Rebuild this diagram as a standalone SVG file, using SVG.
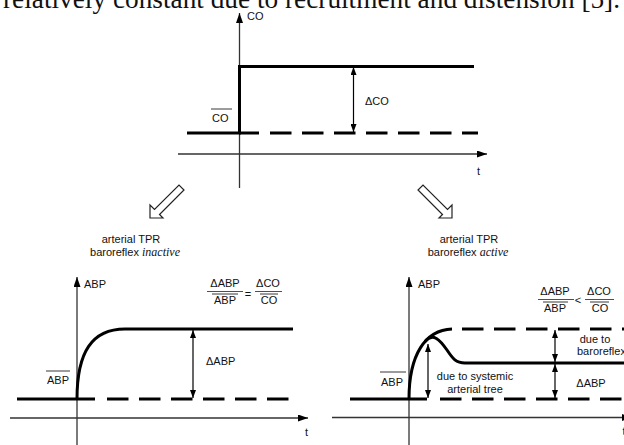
<svg xmlns="http://www.w3.org/2000/svg" width="624" height="445" viewBox="0 0 624 445">
<style>
.t{font-family:"Liberation Sans",Arial,sans-serif;font-size:11px;fill:#111}
.m{text-anchor:middle}
.it{font-family:"Liberation Serif","Times New Roman",serif;font-style:italic;font-size:12px}
.ax{stroke:#333;stroke-width:1.3;fill:none}
.th{stroke:#000;stroke-width:3;fill:none}
.ds{stroke:#000;stroke-width:3;fill:none;stroke-dasharray:21.5 10.5}
.ms{stroke:#000;stroke-width:1.2;fill:none}
.ol{stroke:#222;stroke-width:0.9}
.fb{stroke:#222;stroke-width:0.8}
.ho{fill:#fff;stroke:#222;stroke-width:1.2}
</style>
<defs>
<marker id="ah" viewBox="0 0 10 7" refX="10" refY="3.5" markerWidth="10" markerHeight="7" markerUnits="userSpaceOnUse" orient="auto"><path d="M0,0 L10,3.5 L0,7 z" fill="#000"/></marker>
<marker id="sa" viewBox="0 0 8 6" refX="8" refY="3" markerWidth="8" markerHeight="6" markerUnits="userSpaceOnUse" orient="auto-start-reverse"><path d="M0,0 L8,3 L0,6 z" fill="#000"/></marker>
</defs>
<text x="3" y="7.5" style="font-family:'Liberation Serif','Times New Roman',serif;font-size:27.3px;fill:#111">relatively constant due to recruitment and distension [5].</text>

<g id="top-graph">
<line class="ax" x1="239.5" y1="188" x2="239.5" y2="13" marker-end="url(#ah)"/>
<line class="ax" x1="178" y1="154" x2="487" y2="154" marker-end="url(#ah)"/>
<text class="t" x="247" y="20">CO</text>
<text class="t" x="477" y="175">t</text>
<polyline class="th" points="187,133 239.5,133 239.5,66.5 474,66.5"/>
<line class="th" x1="239" y1="133" x2="259" y2="133"/>
<line class="ds" x1="270" y1="133" x2="478" y2="133"/>
<line class="ms" x1="353.5" y1="67" x2="353.5" y2="132" marker-start="url(#sa)" marker-end="url(#sa)"/>
<text class="t" x="365" y="105">ΔCO</text>
<line class="ol" x1="211" y1="109" x2="232" y2="109"/>
<text class="t" x="212" y="122">CO</text>
</g>

<g id="arrow-left">
<polygon class="ho" points="150,218 150,205 154.5,209.5 179,185 184,190 159.5,214.5 163,218"/>
</g>
<g id="arrow-right">
<polygon class="ho" points="452,218 452,205 447.5,209.5 423,185 418,190 442.5,214.5 439,218"/>
</g>

<g id="label-left">
<text class="t m" x="131" y="243">arterial TPR</text>
<text class="t m" x="135" y="256">baroreflex <tspan class="it">inactive</tspan></text>
</g>
<g id="label-right">
<text class="t m" x="469" y="243">arterial TPR</text>
<text class="t m" x="468" y="256">baroreflex  <tspan class="it">active</tspan></text>
</g>

<g id="left-graph">
<line class="ax" x1="77" y1="445" x2="77" y2="277" marker-end="url(#ah)"/>
<line class="ax" x1="10" y1="418" x2="308" y2="418" marker-end="url(#ah)"/>
<text class="t" x="84" y="288">ABP</text>
<text class="t" x="305" y="436">t</text>
<line class="th" x1="17" y1="399" x2="95" y2="399"/>
<line class="ds" x1="107" y1="399" x2="289" y2="399"/>
<path class="th" d="M77,399 C77,352 92,329 125,329 L293,329"/>
<line class="ms" x1="193" y1="330" x2="193" y2="398" marker-start="url(#sa)" marker-end="url(#sa)"/>
<text class="t" x="206" y="365">ΔABP</text>
<line class="ol" x1="46" y1="371" x2="70" y2="371"/>
<text class="t" x="47" y="384">ABP</text>
<text class="t m" x="225" y="287">ΔABP</text>
<line class="fb" x1="207" y1="291.5" x2="243" y2="291.5"/>
<line class="ol" x1="212" y1="294" x2="238" y2="294"/>
<text class="t m" x="225" y="304">ABP</text>
<text class="t m" x="248" y="298">=</text>
<text class="t m" x="268" y="287">ΔCO</text>
<line class="fb" x1="255" y1="291.5" x2="282" y2="291.5"/>
<line class="ol" x1="260" y1="294" x2="278" y2="294"/>
<text class="t m" x="269" y="304">CO</text>
</g>

<g id="right-graph">
<line class="ax" x1="409" y1="445" x2="409" y2="277" marker-end="url(#ah)"/>
<line class="ax" x1="332" y1="417.5" x2="632" y2="417.5" marker-end="url(#ah)"/>
<text class="t" x="418" y="288">ABP</text>
<text class="t" x="622.5" y="435">t</text>
<line class="th" x1="350" y1="399" x2="427" y2="399"/>
<line class="ds" x1="440" y1="399" x2="626" y2="399"/>
<line class="ds" x1="462" y1="329" x2="626" y2="329"/>
<path class="th" d="M409,399 C409,355 425,330 452,329"/>
<path class="th" d="M425,341.5 C433,332 440,340 447,350 C453,359 456,363 465,363 L626,363"/>
<line class="ms" x1="428" y1="344" x2="428" y2="398" marker-start="url(#sa)" marker-end="url(#sa)"/>
<line class="ms" x1="555" y1="330" x2="555" y2="362" marker-start="url(#sa)" marker-end="url(#sa)"/>
<line class="ms" x1="555" y1="364" x2="555" y2="398" marker-start="url(#sa)" marker-end="url(#sa)"/>
<text class="t m" x="475" y="380">due to systemic</text>
<text class="t m" x="475" y="393">arterial tree</text>
<text class="t m" x="595" y="343">due to</text>
<text class="t" x="577" y="355">baroreflex</text>
<text class="t m" x="591" y="387">ΔABP</text>
<line class="ol" x1="380" y1="372" x2="406" y2="372"/>
<text class="t" x="381" y="386">ABP</text>
<text class="t m" x="555" y="295">ΔABP</text>
<line class="fb" x1="538" y1="299.5" x2="574" y2="299.5"/>
<line class="ol" x1="543" y1="302" x2="568" y2="302"/>
<text class="t m" x="555" y="312">ABP</text>
<text class="t m" x="578" y="304">&lt;</text>
<text class="t m" x="599" y="295">ΔCO</text>
<line class="fb" x1="585" y1="299.5" x2="614" y2="299.5"/>
<line class="ol" x1="590" y1="302" x2="609" y2="302"/>
<text class="t m" x="600" y="312">CO</text>
</g>
</svg>
